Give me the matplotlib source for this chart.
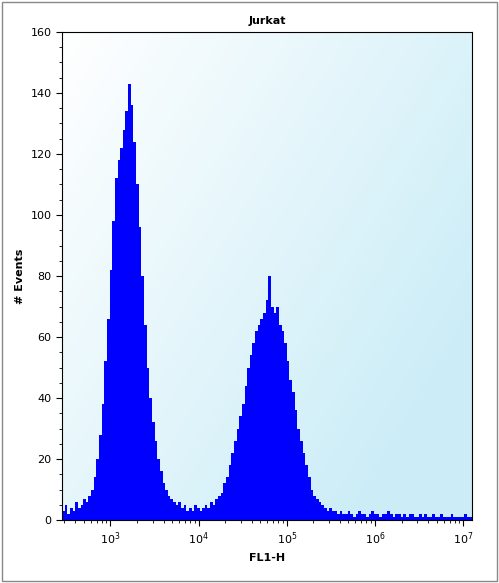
import numpy as np
import matplotlib.pyplot as plt
from matplotlib.patches import Rectangle

# histogram: log10 channel start, bin width (decades), counts per bin
log_start = 2.45
bin_w = 0.03
counts = [3, 5, 2, 4, 3, 6, 4, 5, 7, 6, 8, 10,
          14, 20, 28, 38, 52, 66, 82,
          98, 112, 118, 122, 128, 134, 143,
          136, 124, 110, 96, 80, 64, 50,
          40, 32, 26, 20, 16, 12, 10,
          8, 7, 6, 5, 6, 4, 5,
          3, 4, 3, 5, 4, 3, 4,
          5, 4, 6, 5, 7, 8, 9,
          12, 14, 18, 22, 26, 30, 34,
          38, 44, 50, 54, 58, 62, 64,
          66, 68, 72, 80, 70, 68, 70,
          64, 62, 58, 52, 46, 42, 36,
          30, 26, 22, 18, 14, 10, 8,
          7, 6, 5, 4, 3, 4, 3,
          3, 2, 3, 2, 2, 3, 2, 1, 2, 3, 2, 2, 1, 2, 3, 2, 2, 1,
          2, 2, 3, 2, 1, 2, 2, 1, 2, 1, 2, 2, 1, 1, 2, 1, 2, 1,
          1, 2, 1, 1, 2, 1, 1, 1, 2, 1, 1, 1, 1, 2, 1, 1]
yticks = [0, 20, 40, 60, 80, 100, 120, 140, 160]

edges = 10 ** (log_start + bin_w * np.arange(len(counts) + 1))

fig = plt.figure(figsize=(4.99, 5.83), dpi=100)
fig.patches.append(Rectangle((0.004, 0.004), 0.992, 0.992, transform=fig.transFigure,
                             fill=False, ec='#888888', lw=1))
ax = fig.add_axes([62 / 499, 1 - 520 / 583, 410 / 499, 488 / 583])

# light blue gradient background
gx, gy = np.meshgrid(np.linspace(0, 1, 200), np.linspace(0, 1, 200))
g = np.clip((gx * 0.7 + gy * 0.5), 0, 1)
c0 = np.array([1.0, 1.0, 1.0])
c1 = np.array([0.80, 0.93, 0.97])
img = c0 + (c1 - c0) * g[..., None]
ax.imshow(img, extent=[0, 1, 0, 1], transform=ax.transAxes, aspect='auto', zorder=0)

ax.stairs(counts, edges, fill=True, color='#0000ff', zorder=2)
ax.set_xscale('log')
ax.set_xlim(10 ** 2.45, 10 ** 7.1)
ax.set_ylim(0, 160)
ax.set_yticks(yticks)
ax.yaxis.set_minor_locator(plt.MultipleLocator(5))
ax.tick_params(labelsize=8, direction='out', length=4)
ax.tick_params(which='minor', length=2)
ax.set_title('Jurkat', fontsize=8, fontweight='bold')
ax.set_xlabel('FL1-H', fontsize=8, fontweight='bold')
ax.set_ylabel('# Events', fontsize=8, fontweight='bold')

fig.savefig('out.png')
